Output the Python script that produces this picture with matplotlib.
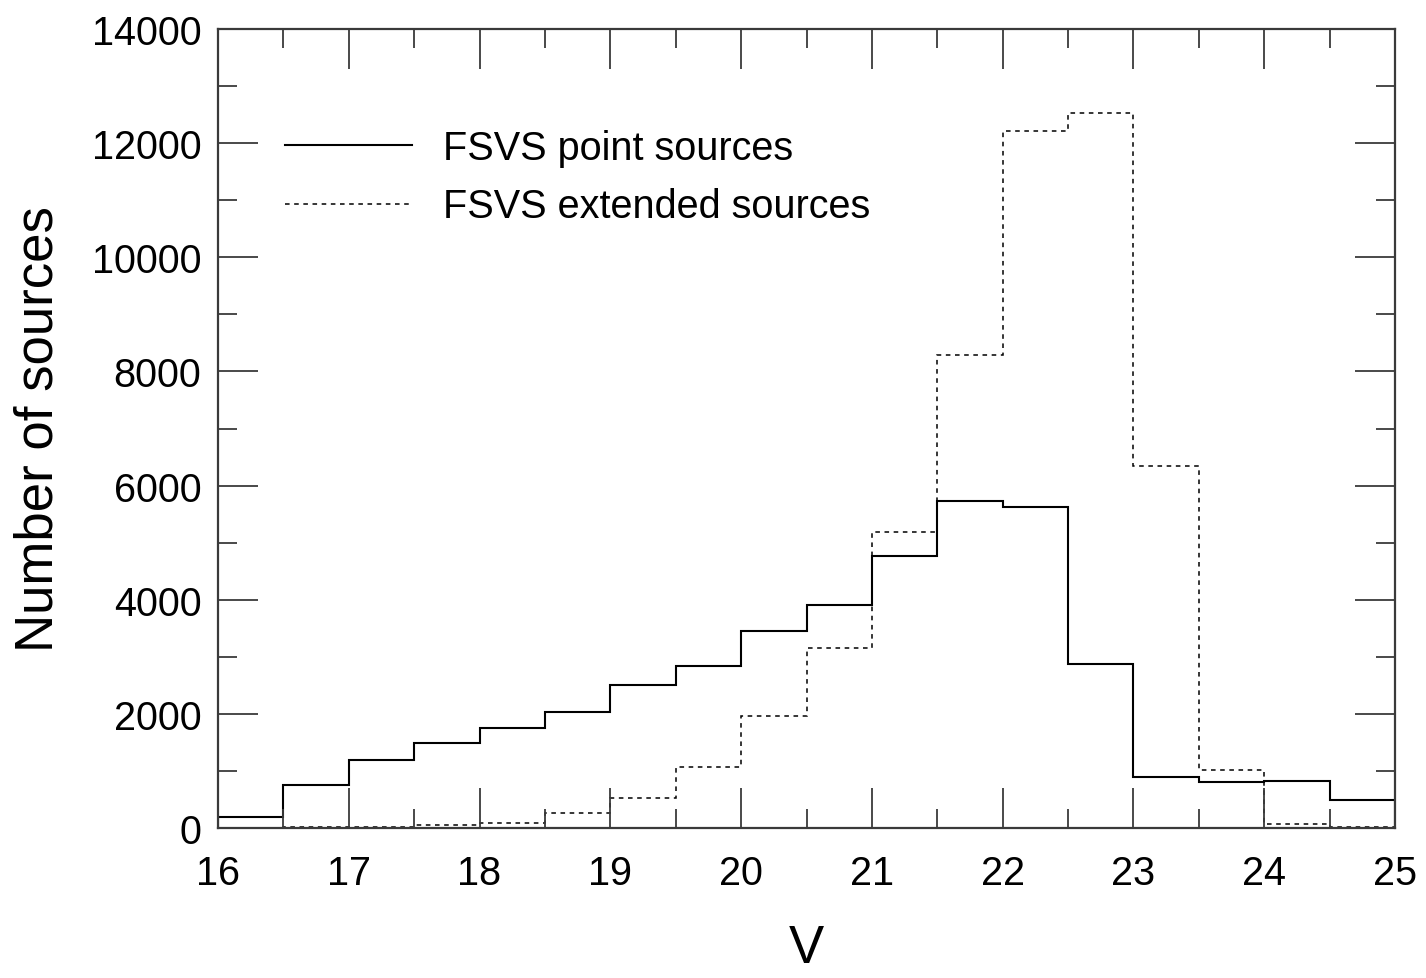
import numpy as np
import matplotlib
matplotlib.use('Agg')
import matplotlib.pyplot as plt
from matplotlib.ticker import MultipleLocator

plt.rcParams['font.family'] = ['Liberation Sans', 'DejaVu Sans']

# bin edges in V magnitude (0.5 mag bins from 16 to 25)
edges = np.arange(16.0, 25.01, 0.5)

# counts
point_counts = [185, 745, 1190, 1495, 1750, 2030, 2510, 2840, 3455, 3905,
                4770, 5730, 5630, 2865, 885, 800, 825, 485]
extended_counts = [5, 10, 25, 50, 85, 255, 520, 1075, 1965, 3160,
                   5190, 8290, 12215, 12520, 6340, 1015, 70, 15]

fig = plt.figure(figsize=(14.26, 9.79), dpi=100)
ax = fig.add_axes([218/1426, 1 - 829/979, (1395-218)/1426, (829-30)/979])

ax.stairs(point_counts, edges, color='black', lw=1.5, label='FSVS point sources')
ax.stairs(extended_counts, edges, color='black', lw=1.1, linestyle=(0, (3, 3)),
          label='FSVS extended sources')

ax.set_xlim(16, 25)
ax.set_ylim(0, 14000)
ax.xaxis.set_major_locator(MultipleLocator(1))
ax.xaxis.set_minor_locator(MultipleLocator(0.5))
ax.yaxis.set_major_locator(MultipleLocator(2000))
ax.yaxis.set_minor_locator(MultipleLocator(1000))

axcol = '#3a3a3a'
for sp in ax.spines.values():
    sp.set_linewidth(1.6)
    sp.set_color(axcol)
ax.tick_params(which='both', direction='in', top=True, right=True, color=axcol, width=1.3)
ax.tick_params(which='major', length=29, labelsize=28.5, pad=19)
ax.tick_params(which='minor', length=14)
ax.tick_params(axis='y', which='major', pad=12)

ax.set_xlabel('V', fontsize=38, labelpad=22)
ax.set_ylabel('Number of sources', fontsize=38, labelpad=20)

ax.legend(loc='upper left', bbox_to_anchor=(0.057, 0.875), frameon=False,
          fontsize=28.5, handlelength=3.2, handletextpad=0.8, labelspacing=0.52,
          borderpad=0, borderaxespad=0)

fig.savefig('out.png', dpi=100)
